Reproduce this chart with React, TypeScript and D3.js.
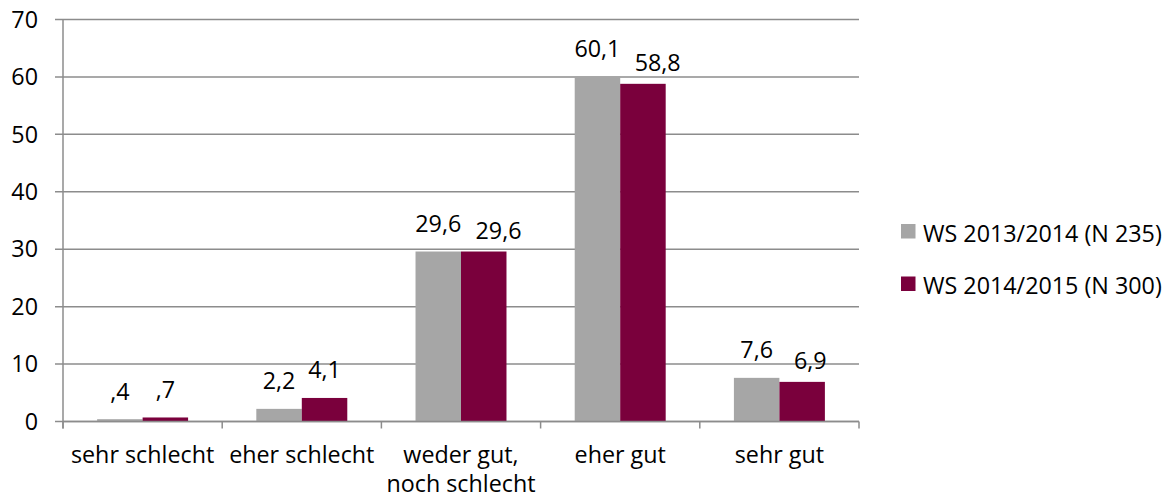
import React from "react";
import * as d3 from "d3";

const categories = ["sehr schlecht", "eher schlecht", "weder gut,\nnoch schlecht", "eher gut", "sehr gut"];
const seriesNames = ["WS 2013/2014 (N 235)", "WS 2014/2015 (N 300)"];
const series2013 = [0.4, 2.2, 29.6, 60.1, 7.6];
const series2015 = [0.7, 4.1, 29.6, 58.8, 6.9];
const valueLabels2013 = [",4", "2,2", "29,6", "60,1", "7,6"];
const valueLabels2015 = [",7", "4,1", "29,6", "58,8", "6,9"];
const yTicks = [0, 10, 20, 30, 40, 50, 60, 70];
const colors = ["#a6a6a6", "#7a003c"];

const W = 1175;
const H = 499;
const left = 63;
const right = 859;
const top = 19.5;
const bottom = 421.5;
const FONT = "'Open Sans', sans-serif";
const FS = 23.3;

export default function App() {
  const y = d3.scaleLinear().domain([0, 70]).range([bottom, top]);
  const x0 = d3.scaleBand<number>().domain(d3.range(categories.length)).range([left, right]).paddingInner(0).paddingOuter(0);
  const bw = x0.bandwidth();
  const barW = bw / 3.5;
  const x1 = d3.scaleBand<number>().domain([0, 1]).range([bw / 2 - barW, bw / 2 + barW]);
  const data = [series2013, series2015];
  const labels = [valueLabels2013, valueLabels2015];
  const axisColor = "#8c8c8c";
  const boundaries = d3.range(categories.length + 1).map((i) => left + i * bw);

  // the second label is nudged down and right when its bar is not taller than its neighbour
  const nudged = (si: number, ci: number) => si === 1 && series2015[ci] <= series2013[ci];

  return (
    <svg width={W} height={H} style={{ position: "absolute", left: 0, top: 0 }} fontFamily={FONT}>
      <rect width={W} height={H} fill="#fff" />
      {yTicks.map((t) => (
        <g key={t}>
          <line x1={left - 8} x2={right} y1={y(t)} y2={y(t)} stroke={axisColor} strokeWidth={1.5} />
          <text x={38} y={y(t)} dy="0.35em" textAnchor="end" fontSize={FS} fill="#000">
            {t}
          </text>
        </g>
      ))}
      {data.map((s, si) =>
        s.map((v, ci) => (
          <rect
            key={`${si}-${ci}`}
            x={(x0(ci) as number) + (x1(si) as number)}
            y={y(v)}
            width={x1.bandwidth()}
            height={y(0) - y(v)}
            fill={colors[si]}
          />
        ))
      )}
      <line x1={left} x2={left} y1={top} y2={bottom + 7} stroke={axisColor} strokeWidth={1.5} />
      <line x1={left} x2={right} y1={bottom} y2={bottom} stroke={axisColor} strokeWidth={1.5} />
      {boundaries.map((b, i) => (
        <line key={i} x1={b} x2={b} y1={bottom} y2={bottom + 7} stroke={axisColor} strokeWidth={1.5} />
      ))}
      {data.map((s, si) =>
        s.map((v, ci) => {
          const bx = (x0(ci) as number) + (x1(si) as number);
          const n = nudged(si, ci);
          return (
            <text
              key={`l${si}-${ci}`}
              x={n ? bx + 14.5 : bx + x1.bandwidth() / 2}
              y={y(v) - (n ? 12.5 : 19.5)}
              textAnchor={n ? "start" : "middle"}
              fontSize={FS}
              fill="#000"
            >
              {labels[si][ci]}
            </text>
          );
        })
      )}
      {categories.map((c, ci) => (
        <text key={c} x={(x0(ci) as number) + bw / 2} y={463} textAnchor="middle" fontSize={FS} fill="#000">
          {c.split("\n").map((line, li) => (
            <tspan key={li} x={(x0(ci) as number) + bw / 2} dy={li === 0 ? 0 : 29}>
              {line}
            </tspan>
          ))}
        </text>
      ))}
      {seriesNames.map((n, i) => (
        <g key={n}>
          <rect x={901} y={224 + i * 52.5} width={14.5} height={14.5} fill={colors[i]} />
          <text x={923} y={241.5 + i * 52.5} fontSize={FS} fill="#000">
            {n}
          </text>
        </g>
      ))}
    </svg>
  );
}
